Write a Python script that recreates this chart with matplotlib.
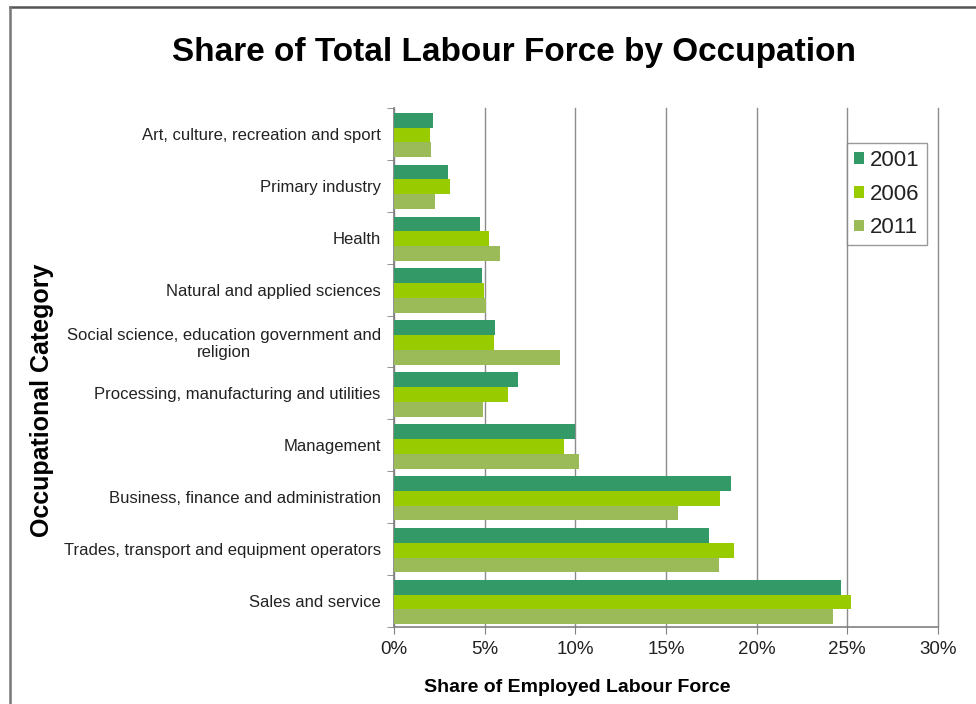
import matplotlib
matplotlib.use("Agg")
import matplotlib.pyplot as plt
import numpy as np
from matplotlib.lines import Line2D

plt.rcParams['font.family'] = ['Liberation Sans', 'DejaVu Sans']

categories = [
    "Art, culture, recreation and sport",
    "Primary industry",
    "Health",
    "Natural and applied sciences",
    "Social science, education government and\nreligion",
    "Processing, manufacturing and utilities",
    "Management",
    "Business, finance and administration",
    "Trades, transport and equipment operators",
    "Sales and service",
]
share_2001 = [2.15, 3.0, 4.73, 4.84, 5.58, 6.85, 10.0, 18.57, 17.39, 24.64]
share_2006 = [1.99, 3.11, 5.25, 4.97, 5.49, 6.26, 9.35, 17.98, 18.74, 25.18]
share_2011 = [2.06, 2.27, 5.84, 5.10, 9.17, 4.93, 10.2, 15.64, 17.94, 24.21]
years = ["2001", "2006", "2011"]
colors = ["#339966", "#99CC00", "#9BBB59"]
x_ticks = [0, 5, 10, 15, 20, 25, 30]

fig = plt.figure(figsize=(9.76, 7.04), dpi=100)
ax = fig.add_axes([0.4037, 0.1094, 0.5573, 0.7372])

n = len(categories)
pos = np.arange(n)
h = 0.285
series = [share_2001, share_2006, share_2011]
for i, (vals, yr, col) in enumerate(zip(series, years, colors)):
    ax.barh(pos + (i - 1) * h + 0.02, vals, height=h, color=col, label=yr, zorder=3)

ax.set_xlim(0, 30)
ax.set_ylim(n - 0.5, -0.5)
ax.set_xticks(x_ticks)
ax.set_xticklabels([f"{t}%" for t in x_ticks], fontsize=13.5, color="#222222")
ax.set_yticks(pos)
ax.set_yticklabels(categories, fontsize=12, color="#222222", multialignment='center')
ax.set_yticks(np.arange(n + 1) - 0.5, minor=True)
ax.tick_params(axis='y', which='major', length=0, pad=9.5)
ax.tick_params(axis='y', which='minor', length=5, color="#808080", direction='out')
ax.tick_params(axis='x', which='major', length=5, color="#808080", direction='out', pad=5)

ax.grid(axis='x', color="#8C8C8C", linewidth=1.0, zorder=0)
for gl in ax.get_xgridlines():
    gl.set_clip_on(False)
ax.set_axisbelow(True)
for side in ("top", "right"):
    ax.spines[side].set_visible(False)
for side in ("left", "bottom"):
    ax.spines[side].set_color("#808080")
    ax.spines[side].set_linewidth(1.2)

fig.text(577 / 976, 1 - 688 / 704, "Share of Employed Labour Force", fontsize=14,
         fontweight='bold', ha='center', va='center')
fig.text(0.043, 0.432, "Occupational Category", rotation=90, fontsize=18,
         fontweight='bold', ha='center', va='center')
fig.text(0.527, 0.926, "Share of Total Labour Force by Occupation", fontsize=24,
         fontweight='bold', ha='center', va='center')

leg = ax.legend(loc='upper left', bbox_to_anchor=(847 / 976, 1 - 143 / 704),
                bbox_transform=fig.transFigure, borderaxespad=0,
                fontsize=16, frameon=True, fancybox=False, handlelength=0.45,
                handleheight=0.45, handletextpad=0.3, labelspacing=0.58, borderpad=0.3)
leg.get_frame().set_edgecolor("#808080")
leg.get_frame().set_linewidth(1.0)
for t in leg.get_texts():
    t.set_color("#222222")

# outer frame along top and left edges
fig.add_artist(Line2D([10 / 976, 1.0], [1 - 7 / 704, 1 - 7 / 704], transform=fig.transFigure,
                      color="#555555", linewidth=1.8))
fig.add_artist(Line2D([10 / 976, 10 / 976], [0, 1 - 7 / 704], transform=fig.transFigure,
                      color="#777777", linewidth=1.8))

fig.savefig("out.png", dpi=100, facecolor="white")
